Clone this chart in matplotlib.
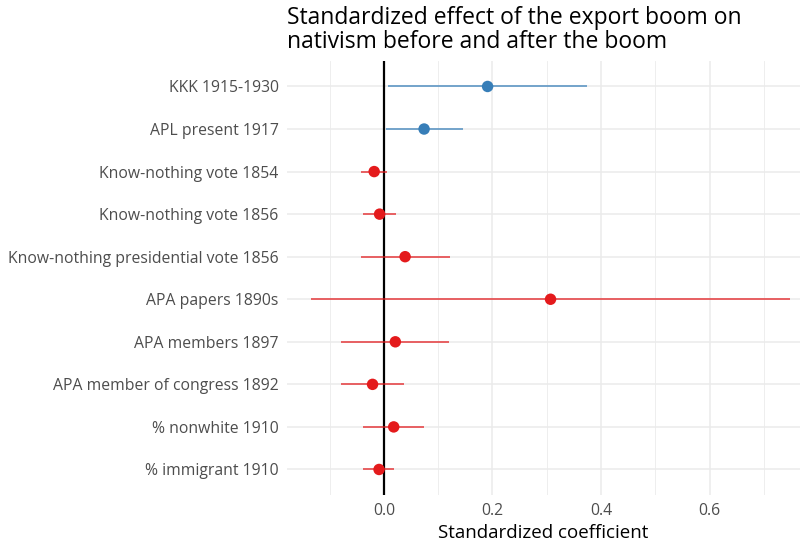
import numpy as np
import matplotlib
matplotlib.use("Agg")
import matplotlib.pyplot as plt

plt.rcParams['font.family'] = ['Open Sans', 'DejaVu Sans']

# outcomes, bottom to top
labels = ["% immigrant 1910", "% nonwhite 1910", "APA member of congress 1892",
          "APA members 1897", "APA papers 1890s", "Know-nothing presidential vote 1856",
          "Know-nothing vote 1856", "Know-nothing vote 1854", "APL present 1917",
          "KKK 1915-1930"]
estimate = [-0.009, 0.018, -0.021, 0.021, 0.307, 0.039, -0.008, -0.018, 0.074, 0.191]
conf_low = [-0.038, -0.039, -0.080, -0.079, -0.134, -0.042, -0.038, -0.042, 0.004, 0.008]
conf_high = [0.019, 0.074, 0.037, 0.120, 0.748, 0.121, 0.022, 0.006, 0.146, 0.374]
period = ["before"] * 8 + ["after"] * 2

colors = {"before": "#E41A1C", "after": "#377EB8"}

fig = plt.figure(figsize=(8.04, 5.46), dpi=100)
ax = fig.add_axes([0.357, 0.0934, 0.638, 0.795])

y = np.arange(len(labels))
for i in range(len(labels)):
    c = colors[period[i]]
    ax.hlines(y[i], conf_low[i], conf_high[i], color=c, lw=1.1, alpha=0.85, zorder=3)
    ax.scatter(estimate[i], y[i], s=68, color=c, zorder=4, edgecolors='none')

ax.axvline(0, color='black', lw=1.6, zorder=2)

ax.set_xlim(-0.1786, 0.7667)
ax.set_ylim(-0.6, len(labels) - 0.4)
ax.set_yticks(y)
ax.set_yticklabels(labels)
ax.set_xticks([0.0, 0.2, 0.4, 0.6])
ax.set_xticklabels(["0.0", "0.2", "0.4", "0.6"])
ax.set_xticks([-0.1, 0.1, 0.3, 0.5, 0.7], minor=True)

ax.grid(True, which='major', color='#EBEBEB', lw=1.1, zorder=0)
ax.grid(True, which='minor', axis='x', color='#EBEBEB', lw=0.6, zorder=0)
for s in ax.spines.values():
    s.set_visible(False)
ax.tick_params(which='both', length=0, labelsize=11.3, labelcolor='#4D4D4D', pad=6)

ax.set_xlabel("Standardized coefficient", fontsize=13.5, color='black', labelpad=3)
ax.set_title("Standardized effect of the export boom on\nnativism before and after the boom",
             fontsize=16.5, loc='left', ha='left', pad=9, linespacing=1.05)

fig.savefig("out.png", dpi=100)
